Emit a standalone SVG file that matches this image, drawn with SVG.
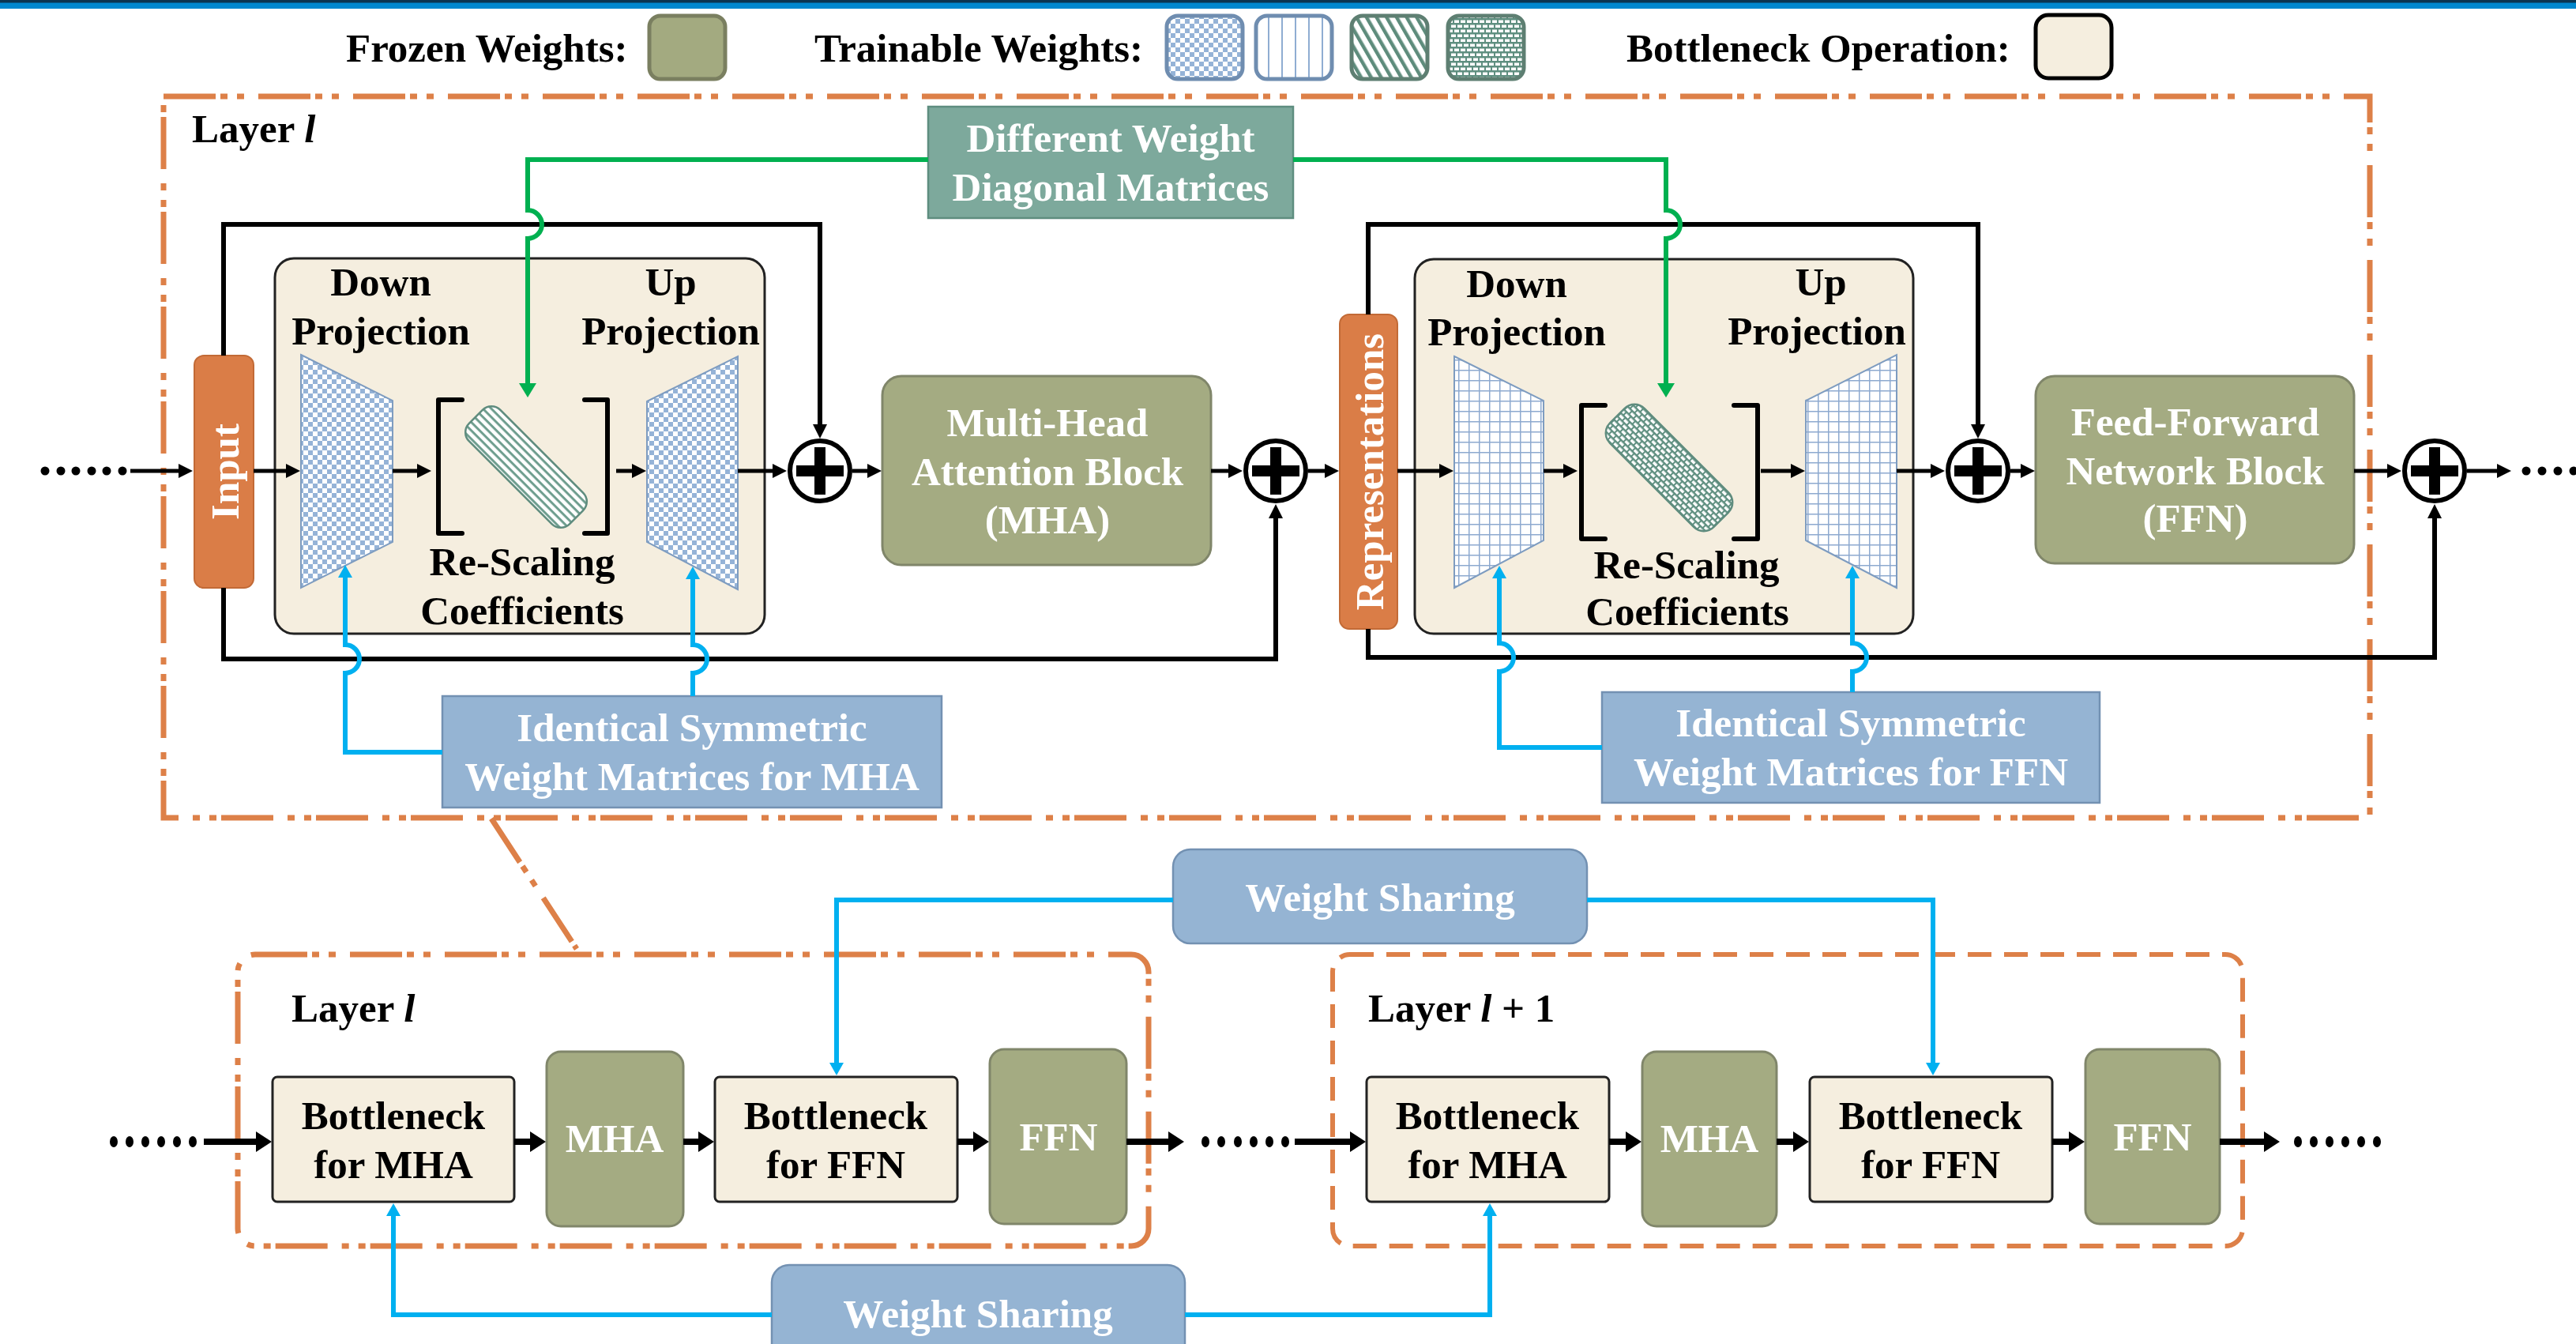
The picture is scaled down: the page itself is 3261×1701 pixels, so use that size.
<svg xmlns="http://www.w3.org/2000/svg" width="3261" height="1701" viewBox="0 0 3261 1701">
<defs>
  <style>
    text{font-family:"Liberation Serif","Times New Roman",serif;font-weight:bold;font-size:51px;fill:#000}
    .w{fill:#fff}
    .c{text-anchor:middle}
    .frz{fill:#A4AB82;stroke:#80866A;stroke-width:3}
    .bn{fill:#F5EEDF;stroke:#222;stroke-width:3}
    .lbl{fill:#95B4D3;stroke:#7391B2;stroke-width:2.5}
    .org{fill:#DA7D47;stroke:#C26A36;stroke-width:2}
    .flow{fill:none;stroke:#000;stroke-width:5;marker-end:url(#ah)}
    .res{fill:none;stroke:#000;stroke-width:6;marker-end:url(#ah)}
    .thick{fill:none;stroke:#000;stroke-width:8;marker-end:url(#ahk)}
    .blu{fill:none;stroke:#00B0F0;stroke-width:6;marker-end:url(#ahb)}
    .grn{fill:none;stroke:#00B050;stroke-width:6;marker-end:url(#ahg)}
    .dd{fill:none;stroke:#DD8048;stroke-width:7;stroke-dasharray:66 6 9 12 9 18}
    .dsh{fill:none;stroke:#DD8048;stroke-width:6;stroke-dasharray:30 16}
    .trap{stroke:#7E9CC0;stroke-width:2}
    .brk{fill:none;stroke:#000;stroke-width:6;stroke-linejoin:round;stroke-linecap:round}
    .dot{fill:#000}
  </style>
  <marker id="ah" markerUnits="userSpaceOnUse" viewBox="0 -9 18 18" markerWidth="18" markerHeight="18" refX="1" refY="0" orient="auto"><path d="M0,-9 L18,0 L0,9z" fill="#000"/></marker>
  <marker id="ahk" markerUnits="userSpaceOnUse" viewBox="0 -13 20 26" markerWidth="20" markerHeight="26" refX="1" refY="0" orient="auto"><path d="M0,-13 L20,0 L0,13z" fill="#000"/></marker>
  <marker id="ahb" markerUnits="userSpaceOnUse" viewBox="0 -9 16 18" markerWidth="16" markerHeight="18" refX="1" refY="0" orient="auto"><path d="M0,-9 L16,0 L0,9z" fill="#00B0F0"/></marker>
  <marker id="ahg" markerUnits="userSpaceOnUse" viewBox="0 -11 18 22" markerWidth="18" markerHeight="22" refX="1" refY="0" orient="auto"><path d="M0,-11 L18,0 L0,11z" fill="#00B050"/></marker>

  <!-- fill textures for trainable weights -->
  <pattern id="chk" patternUnits="userSpaceOnUse" width="12" height="12">
    <rect width="12" height="12" fill="#fff"/>
    <rect width="6" height="6" fill="#95B3D7"/>
    <rect x="6" y="6" width="6" height="6" fill="#95B3D7"/>
  </pattern>
  <pattern id="grd" patternUnits="userSpaceOnUse" width="13" height="13">
    <rect width="13" height="13" fill="#fff"/>
    <path d="M0.75,0 V13 M0,0.75 H13" stroke="#8DA9CF" stroke-width="1.5"/>
  </pattern>
  <pattern id="vln" patternUnits="userSpaceOnUse" width="17" height="17">
    <rect width="17" height="17" fill="#fff"/>
    <path d="M8,0 V17" stroke="#8FADD2" stroke-width="2"/>
  </pattern>
  <pattern id="dgs" patternUnits="userSpaceOnUse" width="11" height="11" patternTransform="rotate(-30)">
    <rect width="11" height="11" fill="#fff"/>
    <rect width="4.5" height="11" fill="#5E8C7C"/>
  </pattern>
  <pattern id="str" patternUnits="userSpaceOnUse" width="10" height="7.5">
    <rect width="10" height="7.5" fill="#fff"/>
    <rect width="10" height="3" fill="#6F9E8F"/>
  </pattern>
  <pattern id="brc" patternUnits="userSpaceOnUse" width="16" height="12">
    <rect width="16" height="12" fill="#5F8F80"/>
    <rect x="1" y="1.5" width="6" height="3.5" fill="#fff"/>
    <rect x="9" y="1.5" width="6" height="3.5" fill="#fff"/>
    <rect x="-3" y="7.5" width="6" height="3.5" fill="#fff"/>
    <rect x="5" y="7.5" width="6" height="3.5" fill="#fff"/>
    <rect x="13" y="7.5" width="6" height="3.5" fill="#fff"/>
  </pattern>

  <g id="plusSym">
    <circle r="38" fill="#fff" stroke="#000" stroke-width="6"/>
    <rect x="-30" y="-7" width="60" height="14" fill="#000"/>
    <rect x="-7" y="-30" width="14" height="60" fill="#000"/>
  </g>
</defs>

<rect width="3261" height="1701" fill="#fff"/>
<!-- header band -->
<rect x="0" y="0" width="3261" height="11" fill="#0088CE"/>
<rect x="0" y="0" width="3261" height="3.5" fill="#0B3550"/>

<!-- legend -->
<g id="legend">
  <text x="438" y="78">Frozen Weights:</text>
  <rect x="822" y="20" width="96" height="80" rx="14" fill="#A3AA80" stroke="#7A7F60" stroke-width="5"/>
  <text x="1031" y="78">Trainable Weights:</text>
  <rect x="1477" y="20" width="96" height="80" rx="14" fill="url(#chk)" stroke="#6F8DB0" stroke-width="5"/>
  <rect x="1590" y="20" width="96" height="80" rx="14" fill="url(#vln)" stroke="#6F8DB0" stroke-width="5"/>
  <rect x="1711" y="20" width="96" height="80" rx="14" fill="url(#dgs)" stroke="#5E7F72" stroke-width="5"/>
  <rect x="1833" y="20" width="96" height="80" rx="14" fill="url(#brc)" stroke="#5E7F72" stroke-width="5"/>
  <text x="2059" y="78">Bottleneck Operation:</text>
  <rect x="2577" y="19" width="96" height="80" rx="16" fill="#F5EEDF" stroke="#000" stroke-width="5"/>
</g>

<!-- layer frames -->
<g id="frames">
  <rect id="layerFrame" x="207" y="122" width="2793" height="913" class="dd"/>
  <text x="243" y="180">Layer <tspan font-style="italic">l</tspan></text>
  <path d="M622,1036 L730,1201" class="dd" stroke-width="6"/>
  <rect id="layerL" x="301" y="1208" width="1153" height="369" rx="22" class="dd" stroke-width="6"/>
  <text x="369" y="1293">Layer <tspan font-style="italic">l</tspan></text>
  <rect id="layerL1" x="1687" y="1208" width="1152" height="369" rx="22" class="dsh"/>
  <text x="1732" y="1293">Layer <tspan font-style="italic">l</tspan> + 1</text>
</g>

<!-- detailed layer -->
<g id="input">
  <rect x="246" y="450" width="75" height="294" rx="12" class="org"/>
  <text class="w c" transform="translate(283.5,597) rotate(-90)" y="18">Input</text>
</g>

<g id="bottleneckMHA">
  <rect x="348" y="327" width="620" height="475" rx="24" class="bn"/>
  <text class="c" x="482" y="374">Down</text>
  <text class="c" x="482" y="436">Projection</text>
  <text class="c" x="849" y="374">Up</text>
  <text class="c" x="849" y="436">Projection</text>
  <polygon class="trap" points="381,449 497,507 497,686 381,744" fill="url(#chk)"/>
  <polygon class="trap" points="819,508 934,451 934,746 819,686" fill="url(#chk)"/>
  <path class="brk" d="M585,506 H555 V675 H585"/>
  <path class="brk" d="M740,506 H769 V675 H740"/>
  <rect x="-90" y="-28" width="180" height="56" rx="16" transform="translate(666,591) rotate(45)" fill="url(#str)" stroke="#5F8C7E" stroke-width="2.5"/>
  <text class="c" x="661" y="728">Re-Scaling</text>
  <text class="c" x="661" y="790">Coefficients</text>
</g>

<g id="mhaBlock">
  <rect x="1117" y="476" width="416" height="239" rx="24" class="frz"/>
  <text class="w c" x="1326" y="552">Multi-Head</text>
  <text class="w c" x="1326" y="614">Attention Block</text>
  <text class="w c" x="1326" y="675">(MHA)</text>
</g>

<g id="representations">
  <rect x="1696" y="398" width="73" height="398" rx="12" class="org"/>
  <text class="w c" transform="translate(1732.5,597) rotate(-90)" y="18">Representations</text>
</g>

<g id="bottleneckFFN">
  <rect x="1791" y="328" width="631" height="474" rx="24" class="bn"/>
  <text class="c" x="1920" y="376">Down</text>
  <text class="c" x="1920" y="437">Projection</text>
  <text class="c" x="2305" y="374">Up</text>
  <text class="c" x="2300" y="436">Projection</text>
  <polygon class="trap" points="1841,451 1954,507 1954,684 1841,744" fill="url(#grd)"/>
  <polygon class="trap" points="2286,507 2401,449 2401,744 2286,684" fill="url(#grd)"/>
  <path class="brk" d="M2032,513 H2002 V682 H2032"/>
  <path class="brk" d="M2195,513 H2225 V682 H2195"/>
  <rect x="-93" y="-31" width="186" height="62" rx="18" transform="translate(2113,592) rotate(45)" fill="url(#brc)" stroke="#5F8C7E" stroke-width="2.5"/>
  <text class="c" x="2135" y="732">Re-Scaling</text>
  <text class="c" x="2136" y="791">Coefficients</text>
</g>

<g id="ffnBlock">
  <rect x="2577" y="476" width="403" height="237" rx="24" class="frz"/>
  <text class="w c" x="2779" y="551">Feed-Forward</text>
  <text class="w c" x="2779" y="613">Network Block</text>
  <text class="w c" x="2779" y="673">(FFN)</text>
</g>

<g id="diagLabel">
  <rect x="1175" y="135" width="462" height="141" fill="#7DA99C" stroke="#5E8D7F" stroke-width="2.5"/>
  <text class="w c" x="1406" y="192">Different Weight</text>
  <text class="w c" x="1406" y="254">Diagonal Matrices</text>
</g>

<g id="symLabelMHA">
  <rect x="560" y="881" width="632" height="141" class="lbl"/>
  <text class="w c" x="876" y="938">Identical Symmetric</text>
  <text class="w c" x="876" y="1000">Weight Matrices for MHA</text>
</g>

<g id="symLabelFFN">
  <rect x="2028" y="876" width="630" height="140" class="lbl"/>
  <text class="w c" x="2343" y="932">Identical Symmetric</text>
  <text class="w c" x="2343" y="994">Weight Matrices for FFN</text>
</g>

<!-- overview of stacked layers -->
<g id="wsTop">
  <rect x="1485" y="1075" width="524" height="119" rx="22" class="lbl"/>
  <text class="w c" x="1747" y="1153">Weight Sharing</text>
</g>
<g id="wsBottom">
  <rect x="977" y="1601" width="523" height="130" rx="22" class="lbl"/>
  <text class="w c" x="1238" y="1680">Weight Sharing</text>
</g>

<g id="l_bnMHA">
  <rect x="345" y="1363" width="306" height="158" rx="6" class="bn"/>
  <text class="c" x="498" y="1429">Bottleneck</text>
  <text class="c" x="498" y="1491">for MHA</text>
</g>
<g id="l_MHA">
  <rect x="692" y="1331" width="173" height="221" rx="18" class="frz"/>
  <text class="w c" x="778" y="1458">MHA</text>
</g>
<g id="l_bnFFN">
  <rect x="905" y="1363" width="307" height="158" rx="6" class="bn"/>
  <text class="c" x="1058" y="1429">Bottleneck</text>
  <text class="c" x="1058" y="1491">for FFN</text>
</g>
<g id="l_FFN">
  <rect x="1253" y="1328" width="173" height="221" rx="18" class="frz"/>
  <text class="w c" x="1340" y="1456">FFN</text>
</g>

<g id="l1_bnMHA">
  <rect x="1730" y="1363" width="307" height="158" rx="6" class="bn"/>
  <text class="c" x="1883" y="1429">Bottleneck</text>
  <text class="c" x="1883" y="1491">for MHA</text>
</g>
<g id="l1_MHA">
  <rect x="2079" y="1331" width="170" height="221" rx="18" class="frz"/>
  <text class="w c" x="2164" y="1458">MHA</text>
</g>
<g id="l1_bnFFN">
  <rect x="2291" y="1363" width="307" height="158" rx="6" class="bn"/>
  <text class="c" x="2444" y="1429">Bottleneck</text>
  <text class="c" x="2444" y="1491">for FFN</text>
</g>
<g id="l1_FFN">
  <rect x="2640" y="1328" width="170" height="221" rx="18" class="frz"/>
  <text class="w c" x="2725" y="1456">FFN</text>
</g>

<!-- connectors, drawn above the boxes they reach into -->
<g id="connectors">
  <!-- residual paths -->
  <path class="res" d="M283,450 V284 H1038 V538"/>
  <path class="res" d="M283,744 V834 H1615 V655"/>
  <path class="res" d="M1732,398 V284 H2504 V538"/>
  <path class="res" d="M1732,796 V832 H3082 V655"/>
  <!-- diagonal-matrix links -->
  <path class="grn" d="M1175,202 H668 V266 A18,18 0 0 1 668,302 V486"/>
  <path class="grn" d="M1637,202 H2109 V266 A18,18 0 0 1 2109,302 V486"/>
  <!-- symmetric-matrix links -->
  <path class="blu" d="M560,952 H437 V852 A18,18 0 0 0 437,816 V730"/>
  <path class="blu" d="M877,881 V852 A18,18 0 0 0 877,816 V732"/>
  <path class="blu" d="M2028,946 H1898 V850 A18,18 0 0 0 1898,814 V731"/>
  <path class="blu" d="M2345,876 V850 A18,18 0 0 0 2345,814 V731"/>
  <!-- main flow -->
  <path class="flow" d="M165,596 H227"/>
  <path class="flow" d="M321,596 H363"/>
  <path class="flow" d="M497,596 H529"/>
  <path class="flow" d="M780,596 H801"/>
  <path class="flow" d="M934,596 H979"/>
  <path class="flow" d="M1079,596 H1099"/>
  <path class="flow" d="M1533,596 H1556"/>
  <path class="flow" d="M1656,596 H1678"/>
  <path class="flow" d="M1769,596 H1823"/>
  <path class="flow" d="M1954,596 H1980"/>
  <path class="flow" d="M2229,596 H2268"/>
  <path class="flow" d="M2401,596 H2445"/>
  <path class="flow" d="M2545,596 H2559"/>
  <path class="flow" d="M2980,596 H3023"/>
  <path class="flow" d="M3123,596 H3162"/>
  <!-- lower overview flow -->
  <path class="thick" d="M258,1445 H325"/>
  <path class="thick" d="M651,1445 H672"/>
  <path class="thick" d="M865,1445 H885"/>
  <path class="thick" d="M1212,1445 H1233"/>
  <path class="thick" d="M1426,1445 H1480"/>
  <path class="thick" d="M1639,1445 H1710"/>
  <path class="thick" d="M2037,1445 H2059"/>
  <path class="thick" d="M2249,1445 H2271"/>
  <path class="thick" d="M2598,1445 H2620"/>
  <path class="thick" d="M2810,1445 H2867"/>
  <!-- weight sharing links -->
  <path class="blu" d="M1485,1139 H1059 V1346"/>
  <path class="blu" d="M2009,1139 H2447 V1346"/>
  <path class="blu" d="M977,1664 H498 V1538"/>
  <path class="blu" d="M1500,1664 H1886 V1538"/>
</g>

<!-- adders -->
<g id="add1"><use href="#plusSym" x="1038" y="596"/></g>
<g id="add2"><use href="#plusSym" x="1615" y="596"/></g>
<g id="add3"><use href="#plusSym" x="2504" y="596"/></g>
<g id="add4"><use href="#plusSym" x="3082" y="596"/></g>

<!-- ellipsis dots -->
<g id="dots">
  <circle class="dot" cx="57" cy="596" r="5.5"/><circle class="dot" cx="77" cy="596" r="5.5"/><circle class="dot" cx="96" cy="596" r="5.5"/><circle class="dot" cx="116" cy="596" r="5.5"/><circle class="dot" cx="135" cy="596" r="5.5"/><circle class="dot" cx="155" cy="596" r="5.5"/>
  <circle class="dot" cx="3198" cy="596" r="5.5"/><circle class="dot" cx="3218" cy="596" r="5.5"/><circle class="dot" cx="3238" cy="596" r="5.5"/><circle class="dot" cx="3258" cy="596" r="5.5"/>
  <ellipse class="dot" cx="144" cy="1445" rx="5" ry="7"/><ellipse class="dot" cx="164" cy="1445" rx="5" ry="7"/><ellipse class="dot" cx="184" cy="1445" rx="5" ry="7"/><ellipse class="dot" cx="204" cy="1445" rx="5" ry="7"/><ellipse class="dot" cx="224" cy="1445" rx="5" ry="7"/><ellipse class="dot" cx="244" cy="1445" rx="5" ry="7"/>
  <ellipse class="dot" cx="1526" cy="1445" rx="5" ry="7"/><ellipse class="dot" cx="1546" cy="1445" rx="5" ry="7"/><ellipse class="dot" cx="1567" cy="1445" rx="5" ry="7"/><ellipse class="dot" cx="1587" cy="1445" rx="5" ry="7"/><ellipse class="dot" cx="1607" cy="1445" rx="5" ry="7"/><ellipse class="dot" cx="1627" cy="1445" rx="5" ry="7"/>
  <ellipse class="dot" cx="2909" cy="1445" rx="5" ry="7"/><ellipse class="dot" cx="2929" cy="1445" rx="5" ry="7"/><ellipse class="dot" cx="2949" cy="1445" rx="5" ry="7"/><ellipse class="dot" cx="2969" cy="1445" rx="5" ry="7"/><ellipse class="dot" cx="2989" cy="1445" rx="5" ry="7"/><ellipse class="dot" cx="3009" cy="1445" rx="5" ry="7"/>
</g>
</svg>
